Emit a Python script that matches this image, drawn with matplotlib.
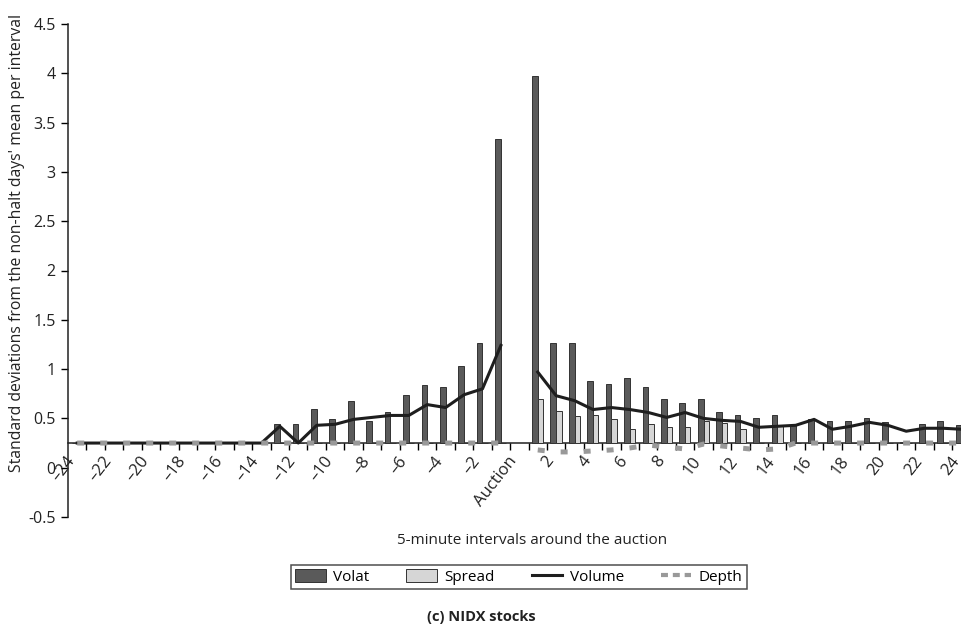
import matplotlib
matplotlib.use("Agg")
import matplotlib.pyplot as plt
import numpy as np
from matplotlib.patches import Patch
from matplotlib.lines import Line2D
from matplotlib.transforms import ScaledTranslation

plt.rcParams['font.family'] = ['Open Sans', 'DejaVu Sans']

# categories: -24..-1, Auction, 1..24
categories = [str(i) for i in range(-24, 0)] + ["Auction"] + [str(i) for i in range(1, 25)]
tick_labels = ([f"\u2013{abs(i)}" for i in range(-24, 0, 2)] + ["Auction"]
               + [str(i) for i in range(2, 25, 2)])
tick_label_idx = list(range(0, 24, 2)) + [24] + list(range(26, 49, 2))

nan = np.nan
axis_cross = 0.25  # value at which the horizontal axis crosses

volat = ([0.25] * 11
         + [0.44, 0.44, 0.60, 0.49, 0.68, 0.47, 0.56, 0.74, 0.84, 0.82, 1.03, 1.26, 3.33]
         + [nan]
         + [3.97, 1.26, 1.26, 0.88, 0.85, 0.91, 0.82, 0.70, 0.66, 0.70, 0.56, 0.53,
            0.50, 0.53, 0.43, 0.49, 0.47, 0.47, 0.50, 0.46, 0.26, 0.44, 0.47, 0.43])
spread = ([0.25] * 24
          + [nan]
          + [0.70, 0.58, 0.52, 0.53, 0.49, 0.39, 0.44, 0.41, 0.41, 0.47, 0.45, 0.39,
             0.25, 0.42, 0.25, 0.25, 0.25, 0.25, 0.25, 0.25, 0.25, 0.25, 0.25, 0.25])
volume = ([0.25] * 11
          + [0.42, 0.25, 0.43, 0.44, 0.49, 0.51, 0.53, 0.53, 0.64, 0.61, 0.74, 0.80, 1.24]
          + [nan]
          + [0.97, 0.73, 0.68, 0.59, 0.61, 0.59, 0.56, 0.51, 0.56, 0.50, 0.48, 0.47,
             0.41, 0.42, 0.43, 0.49, 0.39, 0.42, 0.46, 0.43, 0.37, 0.40, 0.40, 0.39])
depth = ([0.25] * 24
         + [nan]
         + [0.18, 0.16, 0.16, 0.17, 0.18, 0.20, 0.23, 0.21, 0.19, 0.24, 0.22, 0.20,
            0.18, 0.19, 0.25, 0.25, 0.25, 0.25, 0.25, 0.25, 0.25, 0.25, 0.25, 0.25])

yticks = [-0.5, 0, 0.5, 1, 1.5, 2, 2.5, 3, 3.5, 4, 4.5]
ytick_labels = ["-0.5", "0", "0.5", "1", "1.5", "2", "2.5", "3", "3.5", "4", "4.5"]

W, H = 962, 637
fig = plt.figure(figsize=(W / 100, H / 100), dpi=100)
ax = fig.add_axes([68 / W, 1 - 517 / H, (962 - 68) / W, (517 - 24) / H])

x = np.arange(len(categories))
v = np.array(volat) - axis_cross
s = np.array(spread) - axis_cross
bw_v, bw_s = 0.31, 0.29
ax.bar(x - bw_v / 2, v, width=bw_v, bottom=axis_cross, color="#5a5a5a",
       edgecolor="#333333", linewidth=0.7, zorder=2)
ax.bar(x + bw_s / 2, s, width=bw_s, bottom=axis_cross, color="#d6d6d6",
       edgecolor="#333333", linewidth=0.7, zorder=2)
ax.plot(x, volume, color="#1e1e1e", linewidth=2.2, zorder=3)
ax.plot(x, depth, color="#999999", linewidth=3.6, linestyle=(0, (1.4, 3.2)),
        dash_capstyle="butt", zorder=4)

ax.set_xlim(-0.5, 48.03)
ax.set_ylim(-0.5, 4.5)
ax.spines['top'].set_visible(False)
ax.spines['right'].set_visible(False)
ax.spines['bottom'].set_position(('data', axis_cross))
ax.spines['bottom'].set_zorder(1)
for sp in ax.spines.values():
    sp.set_linewidth(1.1)
    sp.set_color("#222222")

ax.set_yticks(yticks)
ax.set_yticklabels(ytick_labels, fontsize=11.5, color="#222222")
ax.tick_params(axis='y', direction='out', length=5, width=1, pad=4)

ax.set_xticks(np.arange(0.5, 48, 1))
ax.set_xticklabels([])
ax.tick_params(axis='x', which='major', direction='out', length=5, width=1)
ax.set_xticks(tick_label_idx, minor=True)
ax.set_xticklabels(tick_labels, minor=True, rotation=52, ha='right', va='center',
                   rotation_mode='anchor', fontsize=12, color="#222222")
ax.tick_params(axis='x', which='minor', length=0, pad=11)
for lab in ax.get_xticklabels(minor=True):
    lab.set_transform(lab.get_transform() + ScaledTranslation(-5 / 100, 0, fig.dpi_scale_trans))

fig.text(17 / W, 1 - 243 / H, "Standard deviations from the non-halt days' mean per interval",
         rotation=90, ha='center', va='center', fontsize=11.3, color="#222222")
fig.text(532 / W, 1 - 541 / H, "5-minute intervals around the auction",
         ha='center', va='center', fontsize=11, color="#222222")
fig.text(481 / W, 1 - 617 / H, "(c) NIDX stocks", ha='center', va='center',
         fontsize=10.5, fontweight='bold', color="#222222")

handles = [Patch(facecolor="#5a5a5a", edgecolor="#333333", linewidth=0.7, label="Volat"),
           Patch(facecolor="#d6d6d6", edgecolor="#333333", linewidth=0.7, label="Spread"),
           Line2D([], [], color="#1e1e1e", linewidth=2.2, label="Volume"),
           Line2D([], [], color="#999999", linewidth=3, linestyle=(0, (1.67, 1.17)),
                  dash_capstyle="butt", label="Depth")]
leg = fig.legend(handles=handles, loc='center', bbox_to_anchor=(519 / W, 1 - 577 / H),
                 ncol=4, frameon=True, fancybox=False, fontsize=11, handlelength=2.0,
                 handleheight=0.9, columnspacing=2.4, borderpad=0.25, handletextpad=0.5)
leg.get_frame().set_edgecolor("#222222")
leg.get_frame().set_linewidth(1.1)

fig.savefig("out.png", dpi=100)
